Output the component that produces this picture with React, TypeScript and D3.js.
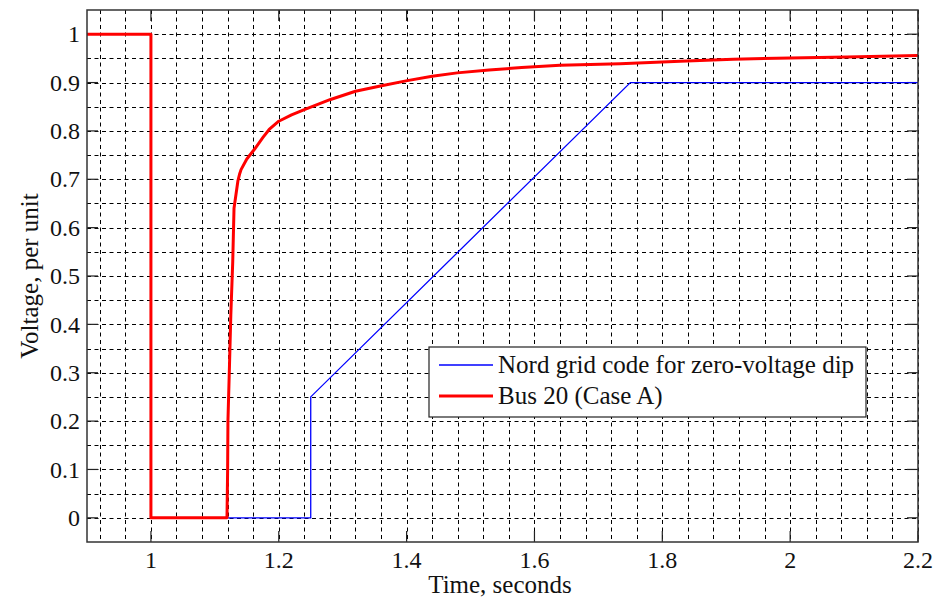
import React, { useRef, useEffect } from 'react';
import * as d3 from 'd3';

// Bus 20 voltage (Case A)
const busTime = [0.9, 1.0, 1.0, 1.119, 1.12, 1.1205, 1.123, 1.125, 1.128, 1.13, 1.136, 1.139, 1.141, 1.15, 1.162, 1.175, 1.185, 1.2, 1.22, 1.24, 1.281, 1.32, 1.359, 1.401, 1.44, 1.479, 1.529, 1.58, 1.64, 1.734, 1.828, 1.911, 2.0, 2.089, 2.2];
const busVolt = [1, 1, 0, 0, 0.1, 0.2, 0.32, 0.42, 0.53, 0.64, 0.696, 0.712, 0.72, 0.742, 0.762, 0.786, 0.803, 0.82, 0.833, 0.844, 0.865, 0.882, 0.893, 0.904, 0.913, 0.92, 0.926, 0.931, 0.936, 0.939, 0.944, 0.948, 0.951, 0.953, 0.956];

// Nord grid code envelope
const codeTime = [1.12, 1.25, 1.25, 1.75, 2.2];
const codeVolt = [0, 0, 0.25, 0.9, 0.9];

const xTicks = [1, 1.2, 1.4, 1.6, 1.8, 2, 2.2];
const yTicks = [0, 0.1, 0.2, 0.3, 0.4, 0.5, 0.6, 0.7, 0.8, 0.9, 1];

const legendLabels = ['Nord grid code for zero-voltage dip', 'Bus 20 (Case A)'];

const App = () => {
  const ref = useRef<SVGSVGElement>(null);

  useEffect(() => {
    const svg = d3.select(ref.current);
    svg.selectAll('*').remove();

    const left = 87, right = 918, top = 10, bottom = 542;
    const font = 'Liberation Serif';

    const x = d3.scaleLinear().domain([0.9, 2.2]).range([left, right]);
    const y = d3.scaleLinear().domain([-0.05, 1.05]).range([bottom, top]);

    svg.append('rect')
      .attr('width', 935).attr('height', 598).attr('fill', '#fff');

    // grid: vertical every 0.04, horizontal every 0.05
    const gx = d3.range(23, 56).map(k => k * 0.04);
    const gy = d3.range(0, 21).map(k => k * 0.05);
    const grid = svg.append('g')
      .attr('stroke', '#000')
      .attr('stroke-width', 1)
      .attr('stroke-dasharray', '4,3.5');
    grid.selectAll('.gx').data(gx).join('line')
      .attr('x1', d => Math.round(x(d)) + 0.5).attr('x2', d => Math.round(x(d)) + 0.5)
      .attr('y1', top).attr('y2', bottom);
    grid.selectAll('.gy').data(gy).join('line')
      .attr('y1', d => Math.round(y(d)) + 0.5).attr('y2', d => Math.round(y(d)) + 0.5)
      .attr('x1', left).attr('x2', right);

    // major ticks on all sides, pointing inwards
    const tl = 11;
    const ticks = svg.append('g').attr('stroke', '#222').attr('stroke-width', 1.2);
    xTicks.forEach(t => {
      ticks.append('line').attr('x1', x(t)).attr('x2', x(t)).attr('y1', bottom).attr('y2', bottom - tl);
      ticks.append('line').attr('x1', x(t)).attr('x2', x(t)).attr('y1', top).attr('y2', top + tl);
    });
    yTicks.forEach(t => {
      ticks.append('line').attr('y1', y(t)).attr('y2', y(t)).attr('x1', left).attr('x2', left + tl);
      ticks.append('line').attr('y1', y(t)).attr('y2', y(t)).attr('x1', right).attr('x2', right - tl);
    });

    // series
    const line = d3.line<[number, number]>().x(d => x(d[0])).y(d => y(d[1]));
    svg.append('path')
      .attr('d', line(codeTime.map((t, i) => [t, codeVolt[i]])))
      .attr('fill', 'none').attr('stroke', '#0000ff').attr('stroke-width', 1.3);
    svg.append('path')
      .attr('d', line(busTime.map((t, i) => [t, busVolt[i]])))
      .attr('fill', 'none').attr('stroke', '#ff0000').attr('stroke-width', 3)
      .attr('stroke-linejoin', 'round');

    // frame
    svg.append('rect')
      .attr('x', left).attr('y', top)
      .attr('width', right - left).attr('height', bottom - top)
      .attr('fill', 'none').attr('stroke', '#333').attr('stroke-width', 1.5);

    // tick labels
    svg.append('g').selectAll('text').data(xTicks).join('text')
      .attr('x', d => x(d)).attr('y', 568)
      .attr('text-anchor', 'middle')
      .attr('font-family', font).attr('font-size', 24).attr('fill', '#111')
      .text(d => String(d));
    svg.append('g').selectAll('text').data(yTicks).join('text')
      .attr('x', 80).attr('y', d => y(d))
      .attr('dy', '0.34em')
      .attr('text-anchor', 'end')
      .attr('font-family', font).attr('font-size', 24).attr('fill', '#111')
      .text(d => String(d));

    // axis titles
    svg.append('text')
      .attr('x', 500).attr('y', 593)
      .attr('text-anchor', 'middle')
      .attr('font-family', font).attr('font-size', 25).attr('fill', '#111')
      .text('Time, seconds');
    svg.append('text')
      .attr('transform', `translate(38, ${(top + bottom) / 2}) rotate(-90)`)
      .attr('text-anchor', 'middle')
      .attr('font-family', font).attr('font-size', 25).attr('fill', '#111')
      .text('Voltage, per unit');

    // legend
    const legend = svg.append('g').attr('transform', 'translate(429, 347)');
    legend.append('rect')
      .attr('width', 437).attr('height', 70)
      .attr('fill', '#fff').attr('stroke', '#222').attr('stroke-width', 1.2);
    const colors = ['#0000ff', '#ff0000'];
    const widths = [1.3, 3];
    legendLabels.forEach((label, i) => {
      const ly = 18 + i * 31;
      legend.append('line')
        .attr('x1', 10).attr('x2', 64).attr('y1', ly).attr('y2', ly)
        .attr('stroke', colors[i]).attr('stroke-width', widths[i]);
      legend.append('text')
        .attr('x', 69).attr('y', ly + 8)
        .attr('font-family', font).attr('font-size', 25).attr('fill', '#111')
        .text(label);
    });
  }, []);

  return (
    <svg ref={ref} width={935} height={598}
      style={{ position: 'absolute', left: 0, top: 0 }} />
  );
};

export default App;
